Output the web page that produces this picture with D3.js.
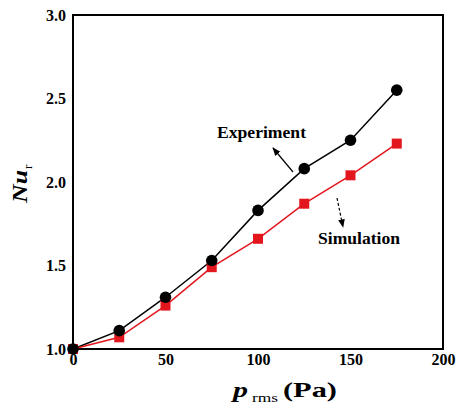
<!DOCTYPE html>
<meta charset="utf-8">
<html lang="en"></html>
<script src="https://d3js.org/d3.v7.min.js"></script>
<style>
  body { margin: 0; background: #fff; }
  text { font-family: "Liberation Serif", "Times New Roman", serif; }
</style>
<div id="chart"></div>
<script>
    // data
    const pressure = [0, 25, 50, 75, 100, 125, 150, 175];
    const experiment = [1.0, 1.11, 1.31, 1.53, 1.83, 2.08, 2.25, 2.55];
    const simulation = [1.0, 1.07, 1.26, 1.49, 1.66, 1.87, 2.04, 2.23];
    const xTicks = [0, 50, 100, 150, 200];
    const yTicks = [1.0, 1.5, 2.0, 2.5, 3.0];

    const W = 456, H = 408;
    const margin = {top: 15, right: 13, bottom: 59, left: 73};
    const width = W - margin.left - margin.right,
        height = H - margin.top - margin.bottom;

    const svg = d3.select("#chart")
        .append("svg")
            .attr("width", W)
            .attr("height", H);
    const g = svg.append("g")
        .attr("transform", "translate(" + margin.left + "," + margin.top + ")");

    const x = d3.scaleLinear().domain([0, 200]).range([0, width]);
    const y = d3.scaleLinear().domain([1.0, 3.0]).range([height, 0]);

    // frame
    g.append("rect")
        .attr("width", width).attr("height", height)
        .attr("fill", "none").attr("stroke", "#000").attr("stroke-width", 2);

    // x axis ticks (inward)
    const xa = g.append("g").attr("transform", "translate(0," + height + ")");
    xa.call(d3.axisBottom(x).tickValues(d3.range(0, 201, 25)).tickSize(-6).tickFormat(""));
    xa.call(d3.axisBottom(x).tickValues(xTicks).tickSize(0).tickPadding(5)
        .tickFormat(d3.format("d")));
    xa.select(".domain").remove();
    xa.selectAll(".tick line").attr("stroke-width", 1.8);
    xa.selectAll("text")
        .attr("font-size", "16px").attr("font-weight", "bold")
        .style("font-family", "Liberation Serif").attr("fill", "#000");

    // y axis ticks (inward)
    const ya = g.append("g");
    ya.call(d3.axisLeft(y).tickValues(d3.range(1, 3.01, 0.25)).tickSize(-6).tickFormat(""));
    ya.call(d3.axisLeft(y).tickValues(yTicks).tickSize(0).tickPadding(7)
        .tickFormat(d3.format(".1f")));
    ya.select(".domain").remove();
    ya.selectAll(".tick line").attr("stroke-width", 1.8);
    ya.selectAll("text")
        .attr("font-size", "16px").attr("font-weight", "bold")
        .style("font-family", "Liberation Serif").attr("fill", "#000");

    const expData = pressure.map(function(p, i) { return [p, experiment[i]]; });
    const simData = pressure.map(function(p, i) { return [p, simulation[i]]; });
    const line = d3.line()
        .x(function(d) { return x(d[0]); })
        .y(function(d) { return y(d[1]); });

    // experiment line
    g.append("path").datum(expData)
        .attr("d", line).attr("fill", "none")
        .attr("stroke", "#000").attr("stroke-width", 1.5);
    // simulation line
    g.append("path").datum(simData)
        .attr("d", line).attr("fill", "none")
        .attr("stroke", "#e3161e").attr("stroke-width", 1.5);

    g.selectAll("rect.sim").data(simData).enter()
        .append("rect").attr("class", "sim")
            .attr("x", function(d) { return x(d[0]) - 5; })
            .attr("y", function(d) { return y(d[1]) - 5; })
            .attr("width", 10).attr("height", 10)
            .attr("fill", "#e3161e");
    g.selectAll("circle.exp").data(expData).enter()
        .append("circle").attr("class", "exp")
            .attr("cx", function(d) { return x(d[0]); })
            .attr("cy", function(d) { return y(d[1]); })
            .attr("r", 5.8)
            .attr("fill", "#000");

    // annotations
    svg.append("defs").append("marker")
        .attr("id", "ah").attr("viewBox", "0 0 10 10")
        .attr("refX", 9).attr("refY", 5)
        .attr("markerWidth", 7).attr("markerHeight", 7)
        .attr("orient", "auto")
        .append("path").attr("d", "M0,1 L10,5 L0,9 Z").attr("fill", "#000");

    svg.append("text")
        .attr("x", 217).attr("y", 138)
        .attr("font-size", "17.5px").attr("font-weight", "bold")
        .attr("textLength", 89).attr("lengthAdjust", "spacingAndGlyphs")
        .text("Experiment");
    svg.append("line")
        .attr("x1", 293).attr("y1", 172).attr("x2", 273).attr("y2", 148)
        .attr("stroke", "#000").attr("stroke-width", 1.2)
        .attr("marker-end", "url(#ah)");

    svg.append("text")
        .attr("x", 318).attr("y", 244)
        .attr("font-size", "17.5px").attr("font-weight", "bold")
        .attr("textLength", 82).attr("lengthAdjust", "spacingAndGlyphs")
        .text("Simulation");
    svg.append("line")
        .attr("x1", 337).attr("y1", 198).attr("x2", 343).attr("y2", 227)
        .attr("stroke", "#000").attr("stroke-width", 1.2)
        .attr("stroke-dasharray", "3,2")
        .attr("marker-end", "url(#ah)");

    // x axis title
    svg.append("text")
        .attr("x", 233).attr("y", 397)
        .attr("font-size", "21px").attr("font-weight", "bold").attr("font-style", "italic")
        .attr("textLength", 15).attr("lengthAdjust", "spacingAndGlyphs")
        .text("p");
    svg.append("text")
        .attr("x", 252).attr("y", 402)
        .attr("font-size", "13px")
        .attr("textLength", 26).attr("lengthAdjust", "spacingAndGlyphs")
        .text("rms");
    svg.append("text")
        .attr("x", 283).attr("y", 397)
        .attr("font-size", "21px").attr("font-weight", "bold")
        .attr("textLength", 54).attr("lengthAdjust", "spacingAndGlyphs")
        .text("(Pa)");

    // y axis title
    const yt = svg.append("g")
        .attr("transform", "translate(27,203) rotate(-90)");
    yt.append("text")
        .attr("font-size", "21px").attr("font-weight", "bold").attr("font-style", "italic")
        .attr("textLength", 33).attr("lengthAdjust", "spacingAndGlyphs")
        .text("Nu");
    yt.append("text")
        .attr("x", 34).attr("y", 5)
        .attr("font-size", "13px")
        .text("r");
</script>
